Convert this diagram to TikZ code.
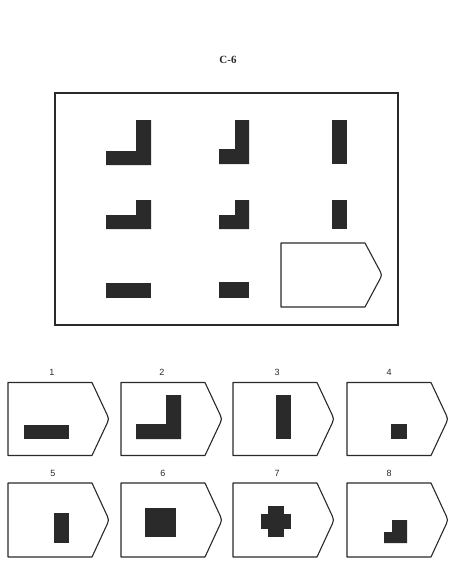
\documentclass[tikz,border=0pt]{standalone}
\usepackage{fontspec}
\setmainfont{Liberation Serif}
\newfontfamily\numfont{Liberation Sans}
\definecolor{ink}{HTML}{2A2A2A}
\tikzset{
  frameline/.style={draw=ink, line width=1.2pt},
  boxline/.style={draw=ink, line width=1.1pt, line join=round},
  blk/.style={fill=ink},
  numlabel/.style={font=\numfont\fontsize{9}{10}\selectfont, text=ink, inner sep=0pt},
  titlelabel/.style={font=\fontsize{11}{13}\selectfont\bfseries, text=ink, inner sep=0pt}
}
\newcommand\pentbox[3]{%
  \draw[boxline] (#1,#2) -- ++(84,0) -- ++(13,{0.38*#3})
    .. controls +(4.5,{0.13*#3}) and +(4.5,{-0.13*#3}) .. ++(0,{0.24*#3})
    -- ++(-13,{0.38*#3}) -- ++(-84,0) -- cycle;}
\begin{document}
\begin{tikzpicture}[x=1pt,y=-1pt]
\useasboundingbox (0,0) rectangle (457,578);
\fill[white] (0,0) rectangle (457,578);
% title
\node[titlelabel] (title) at (228,60) {C-6};
% matrix frame
\draw[frameline] (55,93) rectangle (398,325);
% row 1
\fill[blk] (136,120) -- (151,120) -- (151,165) -- (106,165) -- (106,151) -- (136,151) -- cycle;
\fill[blk] (235,120) -- (249,120) -- (249,164) -- (219,164) -- (219,149) -- (235,149) -- cycle;
\fill[blk] (332,120) rectangle (347,164);
% row 2
\fill[blk] (136,200) -- (151,200) -- (151,229) -- (106,229) -- (106,215) -- (136,215) -- cycle;
\fill[blk] (235,200) -- (249,200) -- (249,229) -- (219,229) -- (219,215) -- (235,215) -- cycle;
\fill[blk] (332,200) rectangle (347,229);
% row 3
\fill[blk] (106,283) rectangle (151,298);
\fill[blk] (219,282) rectangle (249,298);
\pentbox{281}{243}{64}
% answers row 1
\node[numlabel] (n1) at (52,372) {1};
\node[numlabel] (n2) at (162,372) {2};
\node[numlabel] (n3) at (277,372) {3};
\node[numlabel] (n4) at (389,372) {4};
\pentbox{8}{382.5}{73}
\pentbox{121}{382.5}{73}
\pentbox{233}{382.5}{73}
\pentbox{347}{382.5}{73}
\fill[blk] (24,425) rectangle (69,439);
\fill[blk] (166,395) -- (181,395) -- (181,439) -- (136,439) -- (136,424) -- (166,424) -- cycle;
\fill[blk] (276,395) rectangle (291,439);
\fill[blk] (391,424) rectangle (407,439);
% answers row 2
\node[numlabel] (n5) at (53,473) {5};
\node[numlabel] (n6) at (163,473) {6};
\node[numlabel] (n7) at (277,473) {7};
\node[numlabel] (n8) at (389,473) {8};
\pentbox{8}{483}{74}
\pentbox{121}{483}{74}
\pentbox{233}{483}{74}
\pentbox{347}{483}{74}
\fill[blk] (54,513) rectangle (69,543);
\fill[blk] (145,508) rectangle (176,537);
\fill[blk] (261,514) rectangle (291,529);
\fill[blk] (268,506) rectangle (284,537);
\fill[blk] (392,520) -- (407,520) -- (407,543) -- (384,543) -- (384,532) -- (392,532) -- cycle;
\end{tikzpicture}
\end{document}
